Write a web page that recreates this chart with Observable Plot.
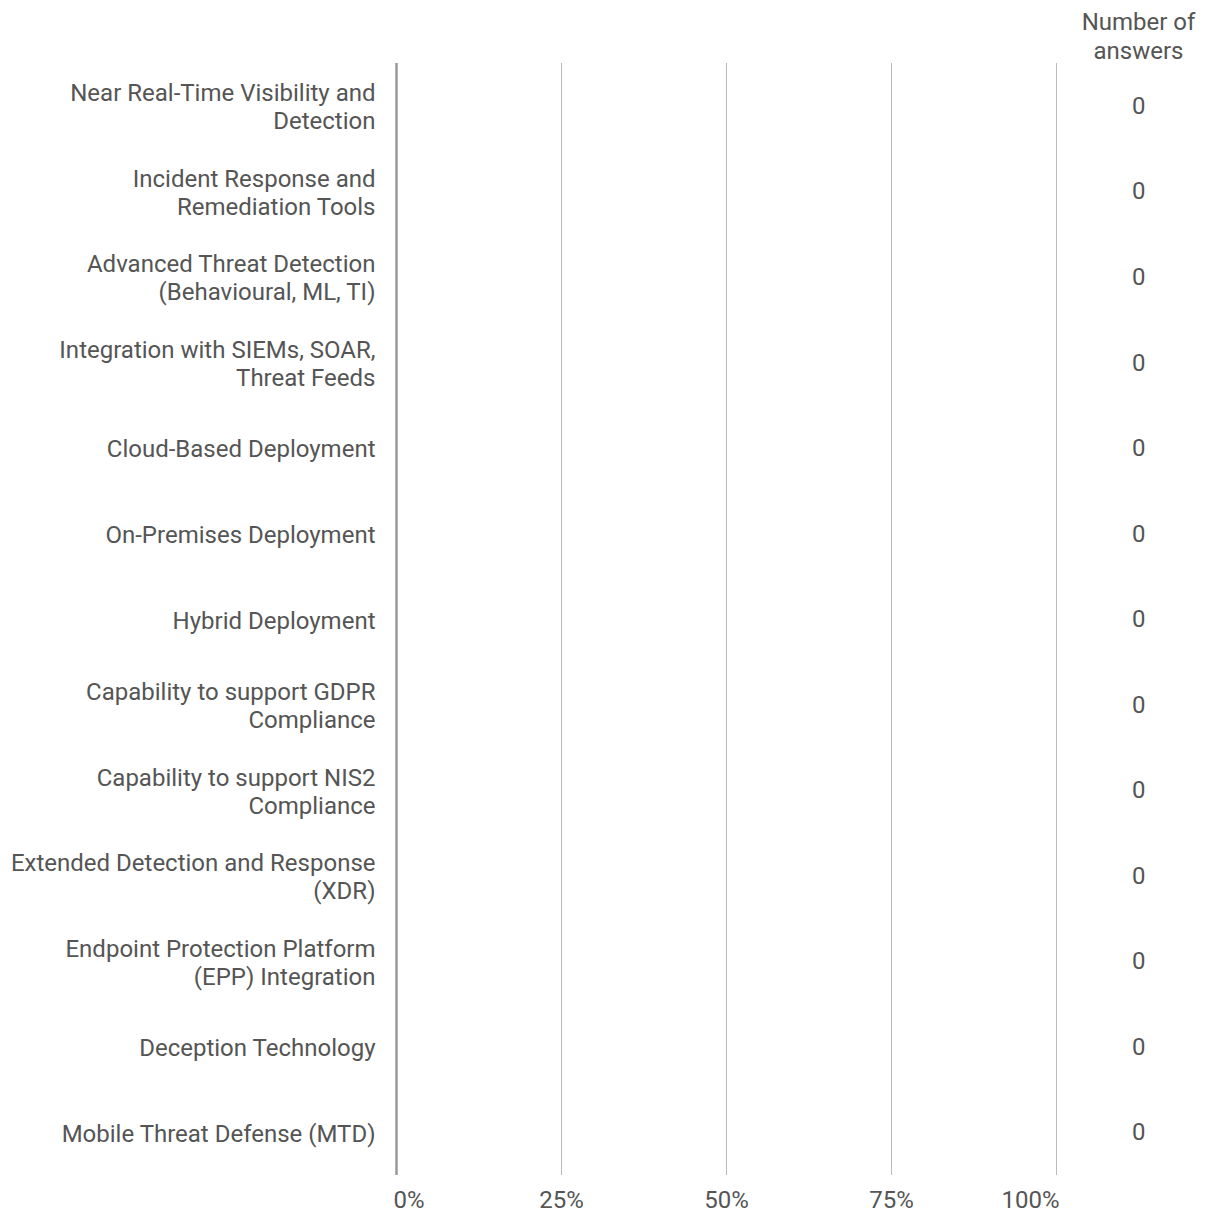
<!DOCTYPE html>
<html>
<head>
<meta charset="utf-8">
<script src="https://cdn.jsdelivr.net/npm/d3@7"></script>
<script src="https://cdn.jsdelivr.net/npm/@observablehq/plot@0.6"></script>
<style>
  html, body { margin: 0; padding: 0; background: #fff; }
  #chart svg { display: block; }
</style>
</head>
<body>
<div id="chart"></div>
<script>
const categories = [
  "Near Real-Time Visibility and\nDetection",
  "Incident Response and\nRemediation Tools",
  "Advanced Threat Detection\n(Behavioural, ML, TI)",
  "Integration with SIEMs, SOAR,\nThreat Feeds",
  "Cloud-Based Deployment",
  "On-Premises Deployment",
  "Hybrid Deployment",
  "Capability to support GDPR\nCompliance",
  "Capability to support NIS2\nCompliance",
  "Extended Detection and Response\n(XDR)",
  "Endpoint Protection Platform\n(EPP) Integration",
  "Deception Technology",
  "Mobile Threat Defense (MTD)"
];
const shares = [0, 0, 0, 0, 0, 0, 0, 0, 0, 0, 0, 0, 0];
const answers = [0, 0, 0, 0, 0, 0, 0, 0, 0, 0, 0, 0, 0];
const xTicks = [0, 0.25, 0.5, 0.75, 1];
const headerText = "Number of\nanswers";

const rows = categories.map((c, i) => ({category: c, share: shares[i], answers: answers[i]}));
const fmt = d3.format(".0%");
const font = "Roboto, sans-serif";
const textColor = "#555";
const fs = 24;

const chart = Plot.plot({
  width: 1208,
  height: 1214,
  marginLeft: 396,
  marginRight: 152,
  marginTop: 63,
  marginBottom: 39,
  style: {fontFamily: font, fontSize: fs + "px", color: textColor, background: "#fff"},
  x: {domain: [0, 1], axis: null},
  y: {domain: categories, axis: null, padding: 0, round: false},
  marks: [
    Plot.ruleX(xTicks.filter(d => d > 0), {stroke: "#bbb", strokeWidth: 1}),
    Plot.barX(rows, {x: "share", y: "category", fill: "#4285f4", insetTop: 20, insetBottom: 20}),
    Plot.ruleX([0], {stroke: "#999", strokeWidth: 2.5}),
    // y labels
    Plot.text(rows, {
      x: 0, y: "category", text: "category",
      textAnchor: "end", dx: -21, lineHeight: 1.17,
      fill: textColor, fontSize: fs
    }),
    // count column
    Plot.text(rows, {
      y: "category", text: d => String(d.answers),
      frameAnchor: "right", dx: 89, fill: textColor, fontSize: fs
    }),
    // header
    Plot.text([headerText], {
      frameAnchor: "top-right", dx: 82, dy: -53, text: d => d,
      textAnchor: "middle", lineAnchor: "top", lineHeight: 1.17,
      fill: textColor, fontSize: fs
    }),
    // x tick labels
    Plot.text(xTicks.filter(d => d === 0), {
      x: d => d, frameAnchor: "bottom", dy: 32, text: d => fmt(d),
      textAnchor: "start", dx: -3, fill: textColor, fontSize: fs
    }),
    Plot.text(xTicks.filter(d => d > 0 && d < 1), {
      x: d => d, frameAnchor: "bottom", dy: 32, text: d => fmt(d),
      textAnchor: "middle", fill: textColor, fontSize: fs
    }),
    Plot.text(xTicks.filter(d => d === 1), {
      x: d => d, frameAnchor: "bottom", dy: 32, text: d => fmt(d),
      textAnchor: "end", dx: 3, fill: textColor, fontSize: fs
    })
  ]
});
document.getElementById("chart").appendChild(chart);
</script>
</body>
</html>
